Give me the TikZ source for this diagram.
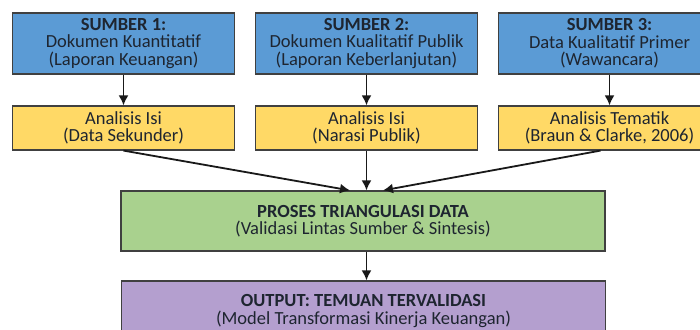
\documentclass[tikz,border=0pt]{standalone}
\usepackage{fontspec}
\setmainfont{Carlito}
\usepackage{tikz}
\usetikzlibrary{calc,arrows.meta}
\definecolor{srcblue}{HTML}{5B9BD5}
\definecolor{anayellow}{HTML}{FFD966}
\definecolor{trigreen}{HTML}{A9D18E}
\definecolor{outpurple}{HTML}{B49FCF}
\definecolor{textdark}{HTML}{1E2530}
\tikzstyle{flow}=[
  x=1pt,y=-1pt,font=\fontsize{18.5}{17.5}\selectfont
]
\tikzstyle{box}=[
  draw=black!75,line width=1.2pt,align=center,text=textdark,inner sep=0pt
]
\tikzstyle{sumber}=[box,fill=srcblue,minimum width=222pt,minimum height=61pt]
\tikzstyle{analisis}=[box,fill=anayellow,minimum width=222pt,minimum height=44pt]
\tikzstyle{wide}=[box,minimum width=484pt,minimum height=60pt]
\tikzstyle{link}=[-{Latex[length=10pt,width=10pt]},line width=1.8pt,black!90]

\begin{document}
\begin{tikzpicture}[flow]
    \useasboundingbox[fill=white] (0,0) rectangle (700,329);
    % sources
    \node[sumber] (s1) at (123.5,43.5) {\textbf{SUMBER 1:}\\Dokumen Kuantitatif\\(Laporan Keuangan)};
    \node[sumber] (s2) at (366.5,43.5) {\textbf{SUMBER 2:}\\Dokumen Kualitatif Publik\\(Laporan Keberlanjutan)};
    \node[sumber] (s3) at (609.5,43.5) {\textbf{SUMBER 3:}\\Data Kualitatif Primer\\(Wawancara)};
    % analyses
    \node[analisis] (a1) at (123.5,128) {Analisis Isi\\(Data Sekunder)};
    \node[analisis] (a2) at (366.5,128) {Analisis Isi\\(Narasi Publik)};
    \node[analisis] (a3) at (609.5,128) {Analisis Tematik\\(Braun \& Clarke, 2006)};
    % triangulation and output
    \node[wide,fill=trigreen] (tri) at (363,221) {\textbf{PROSES TRIANGULASI DATA}\\(Validasi Lintas Sumber \& Sintesis)};
    \node[wide,fill=outpurple] (out) at (363.5,311) {\textbf{OUTPUT: TEMUAN TERVALIDASI}\\(Model Transformasi Kinerja Keuangan)};
    % arrows
    \draw[link] (s1) -- (a1);
    \draw[link] (s2) -- (a2);
    \draw[link] (s3) -- (a3);
    \draw[link] (a1.south) -- ($(tri.north)+(-13,0)$);
    \draw[link] (a2.south) -- (a2.south |- tri.north);
    \draw[link] ($(a3.south)+(-9,0)$) -- ($(tri.north)+(20,0)$);
    \draw[link] (tri.south -| a2.south) -- (out.north -| a2.south);
\end{tikzpicture}
\end{document}
